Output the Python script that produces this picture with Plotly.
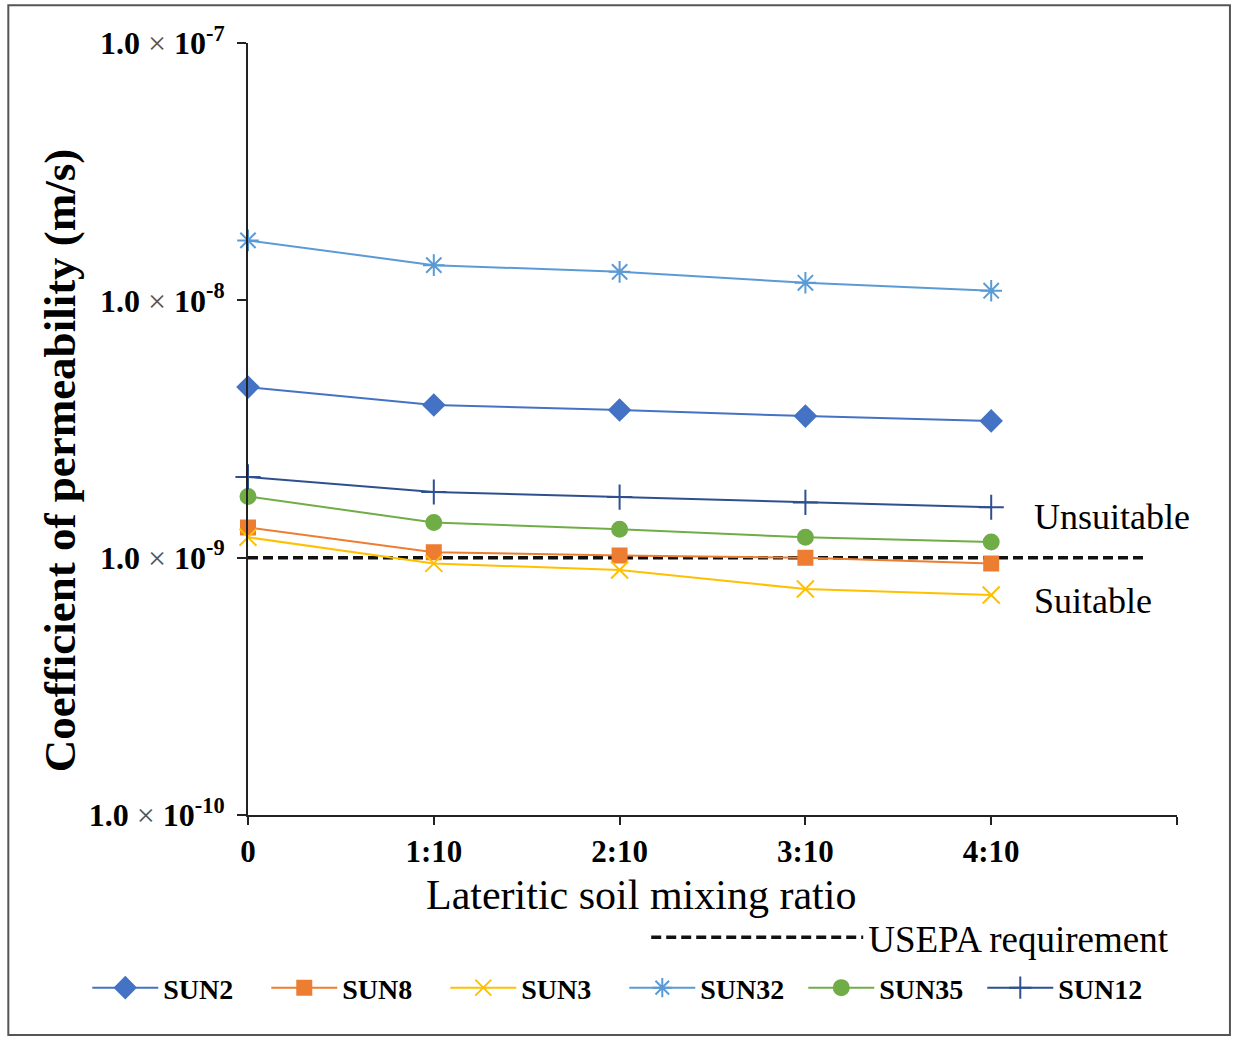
import plotly.graph_objects as go

ratios = [0, 1, 2, 3, 4]
ratio_labels = ["0", "1:10", "2:10", "3:10", "4:10"]
xtick_vals = [0, 1, 2, 3, 4, 5]
xtick_text = ratio_labels + [""]

sun2 = [4.6e-9, 3.92e-9, 3.75e-9, 3.55e-9, 3.4e-9]
sun8 = [1.31e-9, 1.05e-9, 1.02e-9, 1.0e-9, 0.95e-9]
sun3 = [1.2e-9, 0.95e-9, 0.895e-9, 0.755e-9, 0.716e-9]
sun32 = [1.71e-8, 1.37e-8, 1.29e-8, 1.17e-8, 1.09e-8]
sun35 = [1.73e-9, 1.37e-9, 1.29e-9, 1.2e-9, 1.15e-9]
sun12 = [2.06e-9, 1.8e-9, 1.72e-9, 1.64e-9, 1.57e-9]

usepa_x = [0, 4.83]
usepa_value = [1e-9, 1e-9]

ytick_vals = [1e-10, 1e-9, 1e-8, 1e-7]
ytick_exp = ["-10", "-9", "-8", "-7"]

SERIF = "Liberation Serif, Times New Roman, serif"

series = [
    ("SUN2", sun2, "#4472C4", "diamond", 16),
    ("SUN8", sun8, "#ED7D31", "square", 14),
    ("SUN3", sun3, "#FFC000", "x-thin-open", 17),
    ("SUN32", sun32, "#5B9BD5", "asterisk-open", 18),
    ("SUN35", sun35, "#70AD47", "circle", 15),
    ("SUN12", sun12, "#2F4F8F", "cross-thin-open", 18),
]

fig = go.Figure()

fig.add_trace(go.Scatter(
    x=usepa_x, y=usepa_value, mode="lines", name="USEPA requirement",
    line=dict(color="#111111", width=3.5, dash="10px,5px"),
    legend="legend2",
))

for name, vals, color, sym, size in series:
    fig.add_trace(go.Scatter(
        x=ratios, y=vals, mode="lines+markers", name=name,
        line=dict(color=color, width=2),
        marker=dict(symbol=sym, size=size, color=color,
                    line=dict(color=color, width=2)),
        cliponaxis=False,
        legend="legend",
    ))

ytick_text = ["<b>1.0</b> <span style='color:#555555'>×</span> <b>10<sup>%s</sup></b>" % e
              for e in ytick_exp]

fig.update_layout(
    width=1233, height=1038,
    margin=dict(l=248, r=56, t=43, b=223),
    paper_bgcolor="white", plot_bgcolor="white",
    font=dict(family=SERIF, color="black"),
    showlegend=True,
    xaxis=dict(
        range=[0, 5], tickvals=xtick_vals, ticktext=xtick_text,
        showgrid=False, zeroline=False, showline=True, linecolor="#222222", linewidth=2,
        ticks="outside", ticklen=8, tickwidth=1.5, tickcolor="#222222",
        tickfont=dict(family=SERIF, size=31, color="black", weight="bold"),
    ),
    yaxis=dict(
        type="log", range=[-10, -7], tickvals=ytick_vals, ticktext=ytick_text,
        showgrid=False, zeroline=False, showline=True, linecolor="#222222", linewidth=2,
        ticks="outside", ticklen=9, tickwidth=1.5, tickcolor="#222222",
        tickfont=dict(family=SERIF, size=32, color="black"),
        ticklabelstandoff=6,
    ),
    legend=dict(
        orientation="h", x=-0.173, y=-0.224, xanchor="left", yanchor="middle",
        font=dict(family=SERIF, size=28, color="black", weight="bold"),
        itemwidth=66, entrywidth=98, traceorder="normal",
        bgcolor="rgba(0,0,0,0)",
    ),
    legend2=dict(
        orientation="h", x=0.997, y=-0.159, xanchor="right", yanchor="middle",
        font=dict(family=SERIF, size=37, color="black"),
        itemwidth=212, bgcolor="rgba(0,0,0,0)",
    ),
    annotations=[
        dict(x=-0.202, y=0.46, xref="paper", yref="paper",
             text="<b>Coefficient of permeability (m/s)</b>", textangle=-90,
             showarrow=False, xanchor="center", yanchor="middle",
             font=dict(family=SERIF, size=45, color="black")),
        dict(x=0.423, y=-0.103, xref="paper", yref="paper",
             text="Lateritic soil mixing ratio",
             showarrow=False, xanchor="center", yanchor="middle",
             font=dict(family=SERIF, size=42, color="black")),
        dict(x=0.844, y=0.386, xref="paper", yref="paper", text="Unsuitable",
             showarrow=False, xanchor="left", yanchor="middle",
             font=dict(family=SERIF, size=36, color="black")),
        dict(x=0.844, y=0.277, xref="paper", yref="paper", text="Suitable",
             showarrow=False, xanchor="left", yanchor="middle",
             font=dict(family=SERIF, size=36, color="black")),
    ],
    shapes=[
        dict(type="rect", xref="paper", yref="paper", x0=-0.258, x1=1.057,
             y0=-0.285, y1=1.049, line=dict(color="#555555", width=2)),
    ],
)

fig.write_html("out.html", config={"displayModeBar": False},
               post_script="document.body.style.margin='0';")
